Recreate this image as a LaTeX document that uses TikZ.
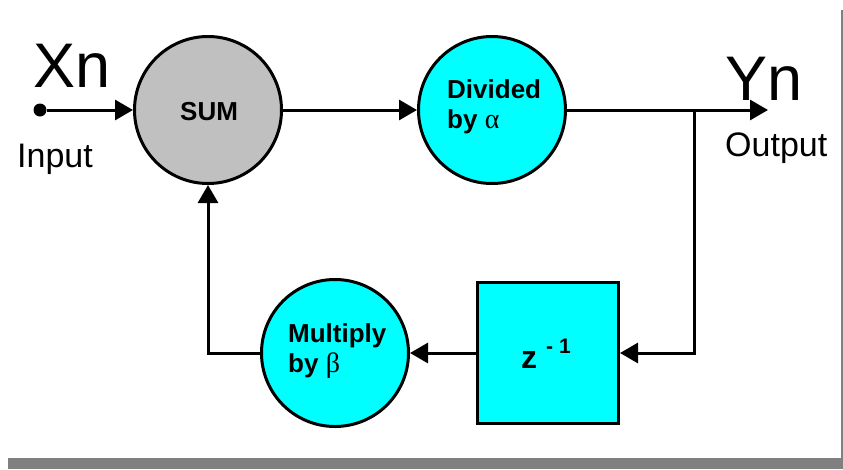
\documentclass[tikz,border=0pt]{standalone}
\usepackage{fontspec}
\setmainfont{Liberation Sans}
\newfontfamily\grk{Liberation Serif}
\usetikzlibrary{arrows.meta}
\definecolor{cyanfill}{RGB}{0,255,255}
\definecolor{sumgray}{RGB}{192,192,192}
\definecolor{framegray}{RGB}{128,128,128}
\tikzset{
  conn/.style={line width=3pt},
  arr/.style={conn,-{Triangle[length=18pt,width=20pt]}},
  blockcirc/.style={circle,draw=black,line width=3pt,minimum size=147pt,inner sep=0pt},
  lbl/.style={inner sep=0pt,anchor=base west},
  boldlbl/.style={lbl,font=\fontsize{26}{30}\selectfont\bfseries},
  biglbl/.style={lbl,font=\fontsize{63}{70}\selectfont},
  medlbl/.style={lbl,font=\fontsize{34}{40}\selectfont}
}
\begin{document}
\begin{tikzpicture}[x=1pt,y=-1pt]
\useasboundingbox (0,0) rectangle (843,469);
% frame
\fill[framegray] (8,458) rectangle (843,469);
\draw[framegray,line width=2pt] (842,10) -- (842,458);
% blocks
\node[blockcirc,fill=sumgray] (sum) at (208,110) {};
\node[blockcirc,fill=cyanfill] (div) at (492,110) {};
\node[blockcirc,fill=cyanfill] (mul) at (335,353) {};
\node[draw=black,line width=3pt,fill=cyanfill,minimum size=141pt,inner sep=0pt] (zinv) at (548,353) {};
% terminals
\node[circle,fill=black,inner sep=0pt,minimum size=13pt] (in) at (40,110) {};
\coordinate (out) at (768,110);
\coordinate (j) at (694,110);
% connectors
\draw[arr] (in) -- (sum.west);
\draw[arr] (sum.east) -- (div.west);
\draw[arr] (div.east) -- (out);
\draw[arr] (j) |- (zinv.east);
\draw[arr] (zinv.west) -- (mul.east);
\draw[arr] (mul.west) -| (sum.south);
% labels
\node[biglbl] (xn) at (33,87) {Xn};
\node[medlbl] (inlbl) at (17,167) {Input};
\node[biglbl] (yn) at (725,100) {Yn};
\node[medlbl] (outlbl) at (725,156) {Output};
\node[boldlbl] (sumlbl) at (180,120) {SUM};
\node[boldlbl] (divlbl1) at (447,98) {Divided};
\node[boldlbl] (divlbl2) at (447,128) {by {\mdseries\grk\fontsize{28}{30}\selectfont α}};
\node[boldlbl] (mullbl1) at (288,342) {Multiply};
\node[boldlbl] (mullbl2) at (288,372) {by {\mdseries\grk\fontsize{28}{30}\selectfont β}};
\node[lbl,font=\fontsize{32}{38}\selectfont\bfseries] (zlbl) at (521,368) {z};
\node[lbl,font=\fontsize{21}{25}\selectfont\bfseries] (explbl) at (546,353) {- 1};
\end{tikzpicture}
\end{document}
